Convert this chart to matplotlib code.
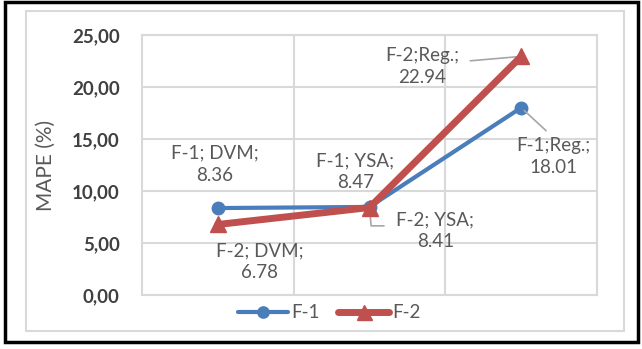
import matplotlib
matplotlib.use("Agg")
import matplotlib.pyplot as plt
from matplotlib.patches import Rectangle
from matplotlib.ticker import FuncFormatter, FixedLocator

plt.rcParams['font.family'] = ['Lato', 'DejaVu Sans']

categories = ["DVM", "YSA", "Reg."]
f1_values = [8.36, 8.47, 18.01]
f2_values = [6.78, 8.41, 22.94]
series_names = ["F-1", "F-2"]
y_ticks = [0, 5, 10, 15, 20, 25]

W, H = 642, 349
fig = plt.figure(figsize=(W / 100, H / 100), dpi=100)

def px(x0, y0, x1, y1):
    return (x0 / W, 1 - y1 / H, (x1 - x0) / W, (y1 - y0) / H)

# outer black border and gray chart border
bx, by, bw, bh = px(5, 2, 638, 342)
fig.patches.append(Rectangle((bx, by), bw, bh, transform=fig.transFigure,
                             fill=False, edgecolor='black', lw=2.5))
gx, gy, gw, gh = px(26, 11, 624, 331)
fig.patches.append(Rectangle((gx, gy), gw, gh, transform=fig.transFigure,
                             fill=False, edgecolor='#D9D9D9', lw=1.5))

ax = fig.add_axes(px(142, 35, 597, 295))
xs = list(range(len(categories)))

grid_c = '#D9D9D9'
blue = '#4A7EBB'
red = '#C0504D'
txt_c = '#595959'

ax.plot(xs, f1_values, color=blue, lw=3, marker='o', markersize=9,
        label=series_names[0], zorder=3, solid_capstyle='round')
ax.plot(xs, f2_values, color=red, lw=5, marker='^', markersize=12,
        label=series_names[1], zorder=4, solid_capstyle='round')

ax.set_xlim(-0.5, len(categories) - 0.5)
ax.set_ylim(0, 25)
ax.yaxis.set_major_locator(FixedLocator(y_ticks))
ax.yaxis.set_major_formatter(FuncFormatter(lambda v, p: f"{v:.2f}".replace('.', ',')))
ax.xaxis.set_major_locator(FixedLocator([i + 0.5 for i in xs[:-1]]))
ax.set_xticklabels([])
ax.tick_params(axis='both', length=0)
ax.tick_params(axis='y', pad=16, labelsize=13.5, labelcolor='#404040')
for lab in ax.get_yticklabels():
    lab.set_fontweight('bold')
ax.grid(True, color=grid_c, lw=1.5)
ax.set_axisbelow(True)
for s in ax.spines.values():
    s.set_color(grid_c)
    s.set_linewidth(1.5)

ax.set_ylabel("MAPE (%)", fontsize=15, color=txt_c)
ax.yaxis.set_label_coords(-0.19, 0.5)

lead = dict(arrowstyle='-', color='#A6A6A6', lw=1.2, shrinkA=2, shrinkB=2)
fs = 13.5

def lab(i, vals, name, dx, dy, arrow=None):
    txt = f"{name}; {categories[i]};\n{vals[i]:.2f}"
    ax.annotate(txt, (xs[i], vals[i]), xytext=(dx, dy), textcoords='offset pixels',
                ha='center', va='center', fontsize=fs, color=txt_c, linespacing=1.35,
                arrowprops=arrow, zorder=5)

lab(0, f1_values, "F-1", -3, 44)
lab(1, f1_values, "F-1", -14, 35)
ax.annotate(f"F-1;{categories[2]};\n{f1_values[2]:.2f}", (xs[2], f1_values[2]),
            xytext=(32, -49), textcoords='offset pixels', ha='center', va='center',
            fontsize=fs, color=txt_c, linespacing=1.35,
            arrowprops=dict(lead, relpos=(0.5, 1.0), shrinkA=4, shrinkB=3))
lab(0, f2_values, "F-2", 42, -37)
ax.annotate(f"F-2; {categories[1]};\n{f2_values[1]:.2f}", (xs[1], f2_values[1]),
            xytext=(66, -23), textcoords='offset pixels', ha='center', va='center',
            fontsize=fs, color=txt_c, linespacing=1.35,
            arrowprops=dict(lead, relpos=(0.0, 0.62), shrinkA=7, shrinkB=2,
                            connectionstyle="angle,angleA=0,angleB=95,rad=0"))
ax.annotate(f"F-2;{categories[2]};\n{f2_values[2]:.2f}", (xs[2], f2_values[2]),
            xytext=(-99, -10), textcoords='offset pixels', ha='center', va='center',
            fontsize=fs, color=txt_c, linespacing=1.35,
            arrowprops=dict(lead, relpos=(1.0, 0.62), shrinkA=6, shrinkB=2))

fig.legend(loc='center', bbox_to_anchor=(329 / W, 1 - 313 / H), ncol=2, frameon=False,
           fontsize=13.5, labelcolor=txt_c, handlelength=2.7, columnspacing=1.0,
           handletextpad=0.15, markerscale=0.9)

fig.savefig("out.png", dpi=100)
